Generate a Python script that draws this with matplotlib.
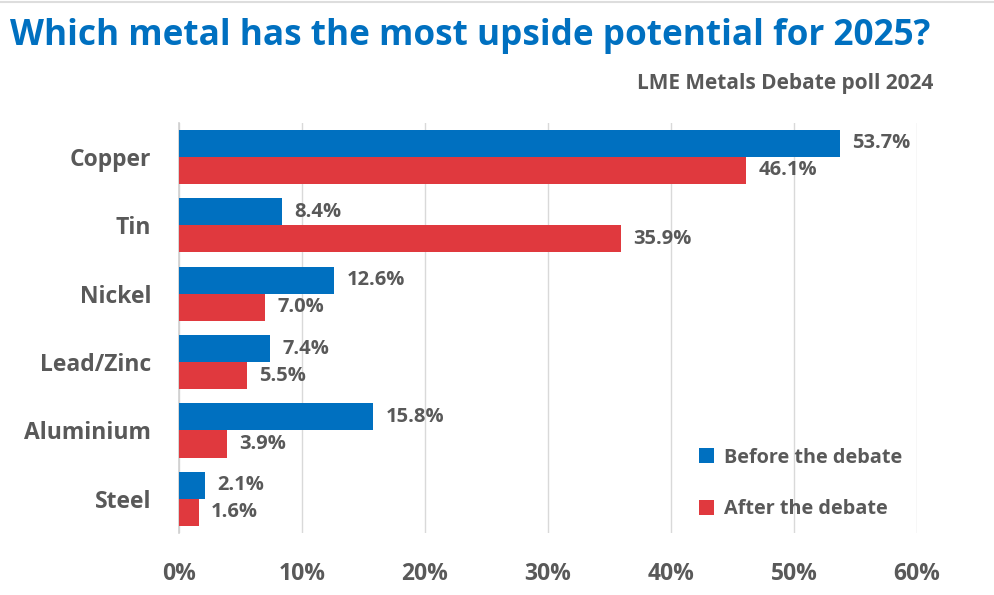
import numpy as np
import matplotlib
matplotlib.use("Agg")
import matplotlib.pyplot as plt
import matplotlib.ticker as ticker

metals = ["Copper", "Tin", "Nickel", "Lead/Zinc", "Aluminium", "Steel"]
before = [53.7, 8.4, 12.6, 7.4, 15.8, 2.1]
after = [46.1, 35.9, 7.0, 5.5, 3.9, 1.6]
series_names = ["Before the debate", "After the debate"]

blue = "#0070C0"
red = "#E0393E"
grey = "#595959"

plt.rcParams['font.family'] = ['Open Sans', 'DejaVu Sans']

fig = plt.figure(figsize=(9.95, 5.95), dpi=100)
ax = fig.add_axes([0.180, 0.104, 0.7416, 0.690])

y = np.arange(len(metals))
h = 0.395
ax.barh(y - h/2, before, height=h, color=blue, label=series_names[0], zorder=3)
ax.barh(y + h/2, after, height=h, color=red, label=series_names[1], zorder=3)

for i in range(len(metals)):
    ax.text(before[i] + 1.0, y[i] - h/2, "{:.1f}%".format(before[i]), va='center', ha='left',
            fontsize=14.5, fontweight='bold', color=grey)
    ax.text(after[i] + 1.0, y[i] + h/2, "{:.1f}%".format(after[i]), va='center', ha='left',
            fontsize=14.5, fontweight='bold', color=grey)

ax.set_ylim(len(metals) - 0.5, -0.5)
ax.set_xlim(0, 60)
ax.set_yticks(y)
ax.set_yticklabels(metals)
ax.xaxis.set_major_locator(ticker.MultipleLocator(10))
ax.xaxis.set_major_formatter(ticker.FuncFormatter(lambda v, p: "{:.0f}%".format(v)))
ax.tick_params(axis='both', length=0, labelsize=16.5, labelcolor=grey)
ax.tick_params(axis='y', pad=20)
ax.tick_params(axis='x', pad=21)
for lab in ax.get_xticklabels() + ax.get_yticklabels():
    lab.set_fontweight('bold')
ax.grid(axis='x', color='#D9D9D9', linewidth=1, zorder=0)
for s in ['top', 'right', 'bottom']:
    ax.spines[s].set_visible(False)
ax.spines['left'].set_color('#D0D0D0')
ax.spines['left'].set_linewidth(1.2)

leg = ax.legend(loc='lower left', bbox_to_anchor=(0.681, -0.01), frameon=False, handlelength=0.75,
                handleheight=0.75, handletextpad=0.5, labelspacing=1.6,
                prop={'weight': 'bold', 'size': 14.3})
for t in leg.get_texts():
    t.set_color(grey)

fig.text(0.010, 0.924, "Which metal has the most upside potential for 2025?", fontsize=25.3,
         fontweight='bold', color=blue, ha='left', va='baseline')
fig.text(0.938, 0.850, "LME Metals Debate poll 2024", fontsize=15, fontweight='bold',
         color=grey, ha='right', va='baseline')
fig.add_artist(plt.Line2D([0, 1], [0.996, 0.996], color='#DDDDDD', linewidth=1.5))

fig.savefig("out.png", dpi=100)
